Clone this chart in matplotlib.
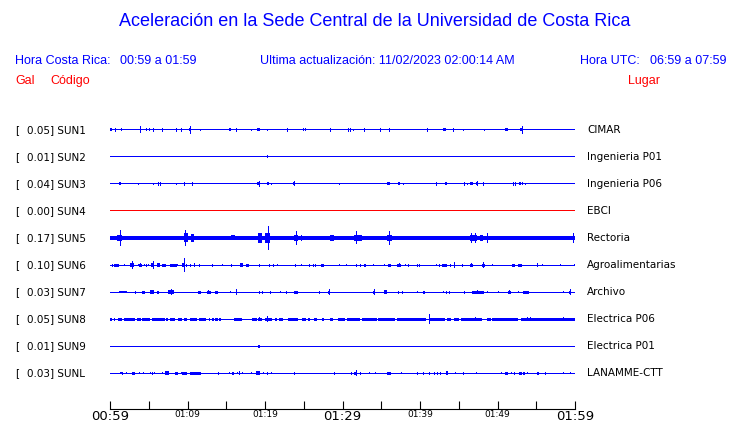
import matplotlib
matplotlib.use("Agg")
import matplotlib.pyplot as plt

# estaciones, valor pico (Gal) y lugar
codigos = ["SUN1", "SUN2", "SUN3", "SUN4", "SUN5", "SUN6", "SUN7", "SUN8", "SUN9", "SUNL"]
picos = [0.05, 0.01, 0.04, 0.00, 0.17, 0.10, 0.03, 0.05, 0.01, 0.03]
lugares = ["CIMAR", "Ingenieria P01", "Ingenieria P06", "EBCI", "Rectoria",
           "Agroalimentarias", "Archivo", "Electrica P06", "Electrica P01", "LANAMME-CTT"]
# nivel de ruido de fondo (media amplitud, px)
ruido = [0.5, 0.5, 0.5, 0.5, 1.7, 0.5, 0.5, 0.5, 0.5, 0.5]

# eventos de cada traza: (min inicio, min fin, media amplitud en px)
sun1 = [(0.0, 0.3, 1.5), (0.7, 0.7, 2), (1.4, 1.6, 1.5), (3.9, 3.9, 3.5), (4.7, 4.7, 1.5),
        (5.0, 5.2, 1.5), (5.6, 5.6, 2), (6.7, 6.7, 2), (8.5, 8.5, 2), (9.2, 9.2, 2),
        (10.2, 10.5, 1.5), (10.3, 10.3, 4), (11.6, 11.6, 1), (15.3, 15.6, 1.5), (16.2, 16.2, 2),
        (18.2, 18.2, 1), (19.0, 19.3, 1.5), (20.2, 20.2, 1), (22.9, 22.9, 2), (24.9, 24.9, 1.5),
        (25.1, 25.1, 1.5), (28.4, 28.4, 2), (30.7, 30.7, 2), (31.0, 31.0, 2), (31.4, 31.4, 1),
        (32.8, 32.8, 2), (34.9, 34.9, 2), (36.0, 36.0, 2), (40.9, 40.9, 2), (43.0, 43.3, 1.5),
        (44.2, 44.2, 2), (45.6, 45.6, 1), (48.2, 48.2, 1), (51.0, 51.3, 1.5), (52.9, 53.3, 1.5),
        (53.1, 53.1, 4)]
sun2 = [(20.3, 20.3, 1.5)]
sun3 = [(1.1, 1.4, 1.5), (3.6, 3.6, 1), (5.5, 5.5, 1), (6.2, 6.2, 2), (6.5, 6.5, 2), (8.5, 8.5, 1),
        (9.5, 9.5, 2), (10.6, 10.6, 2), (19.0, 19.4, 1.5), (19.2, 19.2, 3), (20.2, 20.5, 1.5),
        (20.8, 20.8, 1), (23.6, 23.9, 1.5), (23.8, 23.8, 2.5), (29.6, 29.6, 1), (35.8, 36.1, 1.5),
        (37.2, 37.4, 1.5), (37.8, 37.8, 1), (42.0, 42.0, 2), (43.2, 43.5, 1.5), (45.7, 45.7, 2),
        (46.1, 46.1, 1), (46.5, 46.8, 1.5), (47.2, 47.4, 1.5), (47.3, 47.3, 2.5), (48.1, 48.1, 2),
        (52.0, 52.0, 2), (52.2, 52.2, 2), (52.8, 53.0, 1.5), (53.2, 53.3, 1.5), (53.6, 53.6, 1)]
sun4 = []
sun5 = [(0.9, 1.6, 3.3), (1.25, 1.25, 8), (2.3, 2.3, 2), (3.05, 3.05, 2), (4.7, 4.7, 2),
        (4.9, 4.9, 1.5), (6.7, 6.7, 2), (9.5, 10.1, 4.5), (9.7, 9.7, 8), (10.4, 10.8, 4),
        (15.6, 16.1, 2.5), (19.1, 19.6, 5), (20.0, 20.7, 4.7), (20.35, 20.35, 12),
        (23.7, 24.3, 3.3), (23.96, 23.96, 6.7), (24.7, 24.7, 2.7), (28.4, 28.9, 3.3),
        (31.5, 32.5, 3.3), (31.7, 31.7, 6.5), (34.7, 34.7, 1), (35.7, 36.4, 3.3), (36.0, 36.0, 7),
        (38.1, 38.1, 1), (42.4, 42.4, 1.7), (43.2, 43.2, 1), (43.96, 43.96, 1.3),
        (46.4, 47.3, 3.3), (46.6, 46.6, 4.7), (47.05, 47.05, 4.7), (47.7, 48.1, 2.7),
        (48.6, 48.6, 5.3), (49.3, 49.3, 1.3), (50.3, 50.3, 2), (54.4, 54.4, 1.3), (56.3, 56.3, 1),
        (56.4, 56.4, 1), (57.0, 57.0, 2), (58.9, 59.8, 2), (59.7, 59.7, 4.7)]
sun6 = [(0.3, 0.3, 1.5), (0.5, 1.1, 1.5), (1.8, 1.8, 1), (2.6, 3.1, 2), (2.8, 2.8, 4), (3.6, 3.6, 1),
        (3.8, 4.1, 1.5), (3.9, 3.9, 1.7), (4.35, 4.35, 1), (4.7, 4.7, 1.5), (4.9, 4.9, 1),
        (5.3, 5.6, 1.7), (5.6, 5.6, 4), (6.1, 6.5, 1.7), (6.75, 7.2, 1.5), (7.7, 8.6, 1.5),
        (8.7, 8.7, 1), (9.5, 9.5, 7), (9.3, 9.7, 1.7), (9.85, 9.85, 1.5), (10.3, 10.3, 1.5),
        (10.8, 10.8, 1.7), (11.5, 11.5, 1.5), (13.1, 13.1, 1.5), (14.5, 14.5, 1), (15.6, 15.6, 1.5),
        (16.8, 17.2, 1.7), (17.0, 17.0, 2), (17.6, 17.9, 1.5), (19.2, 19.2, 1.5), (20.5, 20.5, 1.5),
        (21.0, 21.0, 1.5), (21.6, 21.6, 1), (23.9, 23.9, 1.5), (24.6, 24.6, 1), (25.7, 25.8, 1.5),
        (26.2, 26.2, 1.5), (26.5, 26.5, 1.5), (27.2, 27.6, 1.5), (29.55, 29.55, 1),
        (30.5, 30.5, 1), (31.7, 31.7, 1.5), (32.3, 32.3, 1.5), (32.8, 33.0, 1.5), (33.9, 33.9, 1),
        (35.4, 35.4, 1), (35.9, 36.3, 1.5), (37.0, 37.5, 1.5), (37.3, 37.3, 2), (38.1, 38.1, 1),
        (38.5, 38.5, 1.5), (39.6, 39.6, 1.5), (39.9, 39.9, 1.5), (42.1, 42.1, 1), (42.4, 42.4, 1.5),
        (42.8, 43.5, 1.5), (43.9, 43.9, 1.5), (44.4, 44.4, 2.7), (45.4, 45.4, 1.5), (46.5, 46.9, 1.5),
        (46.6, 46.6, 2), (48.0, 48.4, 1.5), (48.1, 48.1, 2.7), (49.3, 49.3, 1), (51.9, 52.3, 1.5),
        (52.7, 53.2, 1.5), (55.1, 55.1, 2), (55.7, 55.7, 1), (58.1, 58.1, 1), (59.9, 59.9, 1)]
sun7 = [(1.2, 2.2, 1.3), (3.2, 3.2, 1.5), (4.1, 4.5, 1.5), (5.2, 5.7, 1.7), (5.45, 5.45, 2.3),
        (6.0, 6.3, 1.5), (7.5, 8.2, 1.7), (7.9, 7.9, 2.7), (11.4, 11.8, 1.5), (12.5, 13.0, 1.5),
        (12.7, 12.7, 2), (13.6, 14.0, 1.5), (15.5, 15.5, 1), (16.2, 16.4, 1.7), (16.3, 16.3, 2.7),
        (19.2, 19.2, 1.5), (19.6, 19.6, 1.5), (20.6, 20.6, 1.5), (21.9, 21.9, 1.3), (22.7, 22.7, 1.5),
        (23.8, 24.3, 1.5), (27.0, 27.0, 1.5), (28.1, 28.4, 1.5), (28.3, 28.3, 2.7),
        (34.0, 34.0, 2.7), (33.9, 34.1, 1.5), (35.4, 35.7, 1.7), (35.5, 35.5, 2.3), (37.1, 37.1, 1.5),
        (37.7, 37.7, 1.5), (39.6, 39.6, 1), (40.4, 40.6, 1.5), (43.0, 43.0, 1), (43.3, 43.3, 1.5),
        (43.8, 43.8, 1.5), (45.7, 45.7, 1.5), (46.7, 48.2, 1.5), (47.3, 47.3, 2), (48.6, 48.6, 1),
        (50.1, 50.1, 1), (51.4, 51.7, 1.5), (51.5, 51.5, 2), (52.6, 52.6, 1), (53.3, 54.0, 1.5),
        (58.4, 58.4, 1), (59.2, 59.4, 1.5), (59.3, 59.3, 2.7)]
sun8 = [(0.04, 0.22, 1.5), (0.47, 0.65, 1.5), (1.08, 1.51, 1.5), (1.85, 3.23, 1.5), (3.48, 4.0, 1.5),
        (4.17, 5.2, 1.5), (5.38, 7.1, 1.5), (7.27, 7.53, 1.5), (7.78, 8.39, 1.5), (8.73, 9.33, 1.5),
        (9.51, 9.94, 1.5), (10.37, 11.23, 1.5), (11.48, 12.43, 1.5), (12.77, 12.95, 1.5),
        (13.2, 13.38, 1.5), (13.55, 13.89, 1.5), (14.06, 14.32, 1.5), (15.96, 17.08, 1.5),
        (18.28, 18.97, 1.5), (19.14, 19.57, 1.5), (20.0, 20.86, 1.5), (21.29, 21.55, 1.5),
        (21.8, 22.32, 1.5), (22.92, 24.3, 1.5), (24.73, 25.33, 1.5), (25.5, 25.85, 1.5),
        (26.28, 26.71, 1.5), (27.31, 27.57, 1.5), (28.43, 28.77, 1.5), (29.46, 30.32, 1.5),
        (30.54, 32.26, 1.5), (32.52, 34.41, 1.5), (34.58, 36.82, 1.5), (37.08, 40.78, 1.5),
        (41.12, 43.27, 1.5), (43.53, 43.96, 1.5), (44.39, 45.08, 1.5), (45.34, 48.0, 1.5),
        (48.6, 49.12, 1.5), (49.29, 52.65, 1.5), (53.08, 60.0, 1.5),
        (19.23, 19.23, 2), (20.26, 20.26, 3), (41.21, 41.21, 5), (47.14, 47.14, 2),
        (53.77, 53.77, 2), (54.2, 54.2, 2), (58.41, 58.41, 2)]
sun9 = [(19.1, 19.3, 1.5)]
sunl = [(1.3, 1.6, 1), (1.5, 1.5, 1.5), (2.1, 2.1, 1), (2.9, 3.2, 1.5), (3.8, 3.8, 1), (4.3, 4.3, 1),
        (5.2, 5.2, 1), (5.46, 5.46, 1.5), (5.7, 5.7, 1), (6.7, 6.7, 1), (7.1, 7.6, 1.7), (8.4, 8.8, 1.5),
        (9.2, 9.2, 1), (9.3, 9.9, 1.5), (10.3, 11.8, 1.5), (13.9, 13.9, 1.5), (15.3, 15.3, 1),
        (15.7, 16.0, 1.5), (16.4, 16.4, 1), (16.6, 16.8, 1.7), (17.0, 17.0, 1), (18.2, 18.2, 1),
        (18.9, 19.3, 1.7), (19.7, 19.7, 1), (20.3, 20.3, 1.5), (20.8, 20.8, 1), (23.8, 23.8, 1.5),
        (28.95, 28.95, 1.5), (31.1, 31.1, 1.5), (31.5, 31.9, 1.5), (31.7, 31.7, 2.7), (32.2, 32.2, 1.5),
        (33.4, 33.4, 1), (34.2, 34.2, 1), (35.8, 36.2, 1.5), (37.5, 37.5, 1), (39.6, 39.6, 1.5),
        (40.35, 40.35, 1.5), (41.1, 41.1, 1.5), (41.8, 41.8, 1.5), (42.2, 42.2, 1.5), (42.6, 42.6, 1.5),
        (43.4, 43.6, 1.7), (44.5, 44.5, 1), (45.6, 45.6, 1.5), (47.2, 47.2, 1), (50.5, 50.5, 1),
        (51.0, 51.3, 1.5), (51.7, 51.7, 1), (52.1, 52.1, 1.5), (52.8, 53.1, 1.5), (53.3, 53.6, 1.5),
        (53.85, 53.85, 1), (55.1, 55.4, 1.5), (56.1, 56.1, 1.5), (58.4, 58.4, 1), (59.3, 59.3, 1)]
trazas = [sun1, sun2, sun3, sun4, sun5, sun6, sun7, sun8, sun9, sunl]

tick_min = [0, 5, 10, 15, 20, 25, 30, 35, 40, 45, 50, 55, 60]
tick_txt = ["00:59", "", "01:09", "", "01:19", "", "01:29", "", "01:39", "", "01:49", "", "01:59"]

W, H = 740, 423
AZUL = "#0000ff"
ROJO = "#ff0000"
FONT = "Liberation Sans"

fig = plt.figure(figsize=(W / 100, H / 100), dpi=100)


def px(x, y):
    return x / W, 1 - y / H


# ejes: x de 110 a 575 px, y de 115 a 409 px, filas cada 27 px desde 130
top, bot, fila0, paso = 115, 409, 130, 27
ax = fig.add_axes([110 / W, 1 - bot / H, 465 / W, (bot - top) / H])
ax.set_xlim(0, 60)
ax.set_ylim((bot - fila0) / paso, (top - fila0) / paso)
px_min = 60 / 465  # minutos por pixel

for i, ev in enumerate(trazas):
    color = ROJO if codigos[i] == "SUN4" else AZUL
    r = max(ruido[i], 0.5) / paso
    ax.bar(0, 2 * r, width=60, bottom=i - r, align="edge", color=color, linewidth=0)
    for t0, t1, a in ev:
        w = max(t1 - t0, px_min)
        h = a / paso
        ax.bar(t0, 2 * h, width=w, bottom=i - h, align="edge", color=color, linewidth=0)

for s in ["top", "left", "right"]:
    ax.spines[s].set_visible(False)
ax.spines["bottom"].set_linewidth(0.8)
ax.set_yticks([])
ax.set_xticks(tick_min)
ax.set_xticklabels(tick_txt)
ax.tick_params(axis="x", direction="in", length=6, width=0.8, pad=1)
for lab in ax.get_xticklabels():
    if lab.get_text() in ("00:59", "01:29", "01:59"):
        lab.set_fontsize(9.5)
    else:
        lab.set_fontsize(6.5)

# textos
fig.text(*px(375, 22), "Aceleración en la Sede Central de la Universidad de Costa Rica",
         color=AZUL, fontsize=13, family=FONT, ha="center", va="center")
fig.text(*px(15, 61), "Hora Costa Rica:", color=AZUL, fontsize=9, family=FONT, va="center")
fig.text(*px(120, 61), "00:59 a 01:59", color=AZUL, fontsize=9, family=FONT, va="center")
fig.text(*px(260, 61), "Ultima actualización: 11/02/2023 02:00:14 AM", color=AZUL,
         fontsize=9, family=FONT, va="center")
fig.text(*px(580, 61), "Hora UTC:", color=AZUL, fontsize=9, family=FONT, va="center")
fig.text(*px(650, 61), "06:59 a 07:59", color=AZUL, fontsize=9, family=FONT, va="center")
fig.text(*px(15, 81), "Gal", color=ROJO, fontsize=9, family=FONT, va="center")
fig.text(*px(50, 81), "Código", color=ROJO, fontsize=9, family=FONT, va="center")
fig.text(*px(628, 81), "Lugar", color=ROJO, fontsize=9, family=FONT, va="center")

for i in range(len(codigos)):
    y = fila0 + paso * i
    fig.text(*px(15, y), "[", fontsize=7.5, va="center")
    fig.text(*px(27, y), f"{picos[i]:.2f}] {codigos[i]}", fontsize=7.5, va="center")
    fig.text(*px(587, y), lugares[i], fontsize=7.5, va="center")

fig.savefig("out.png", dpi=100)
